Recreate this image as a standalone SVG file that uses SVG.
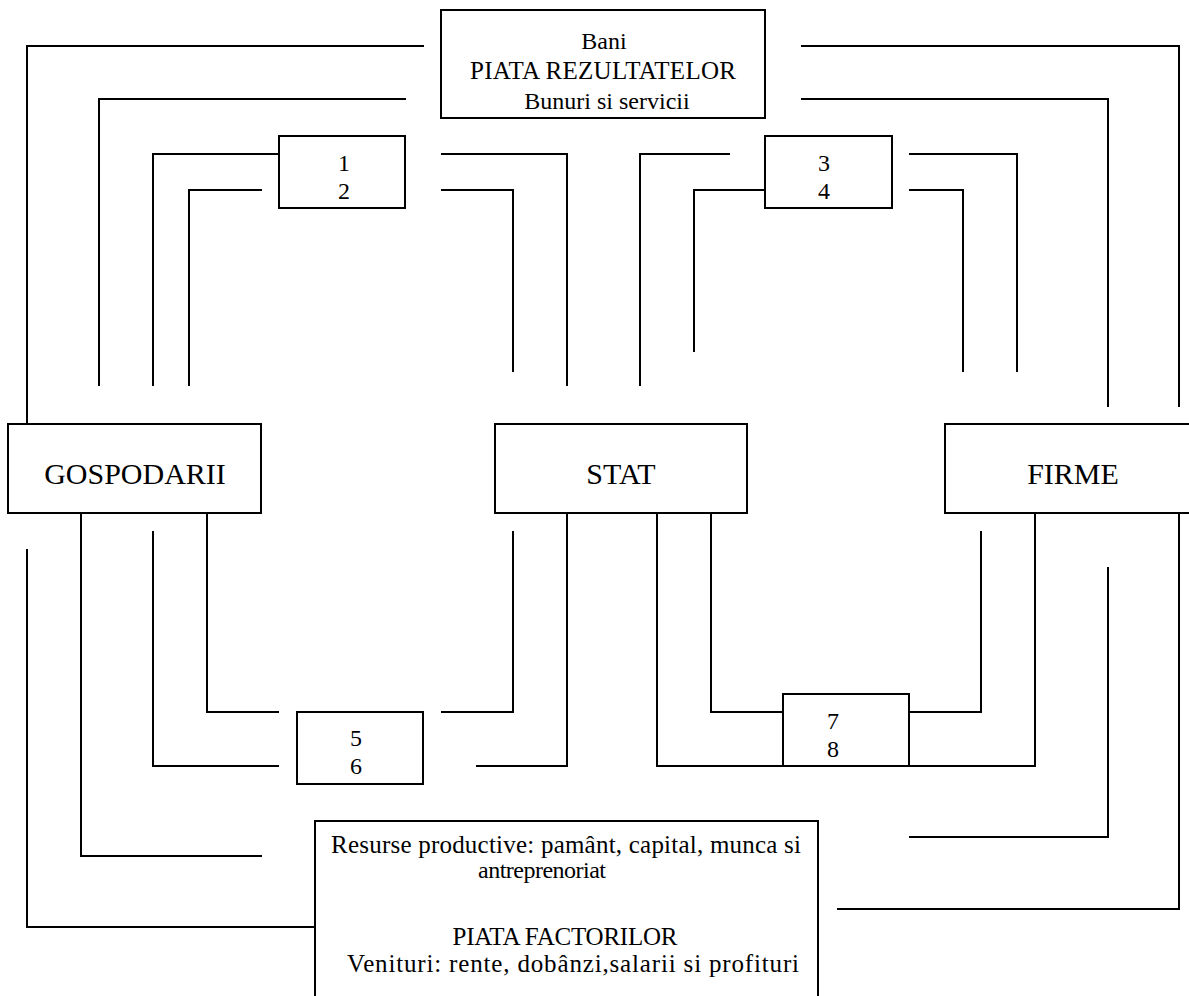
<svg xmlns="http://www.w3.org/2000/svg" width="1189" height="996" viewBox="0 0 1189 996">
<style>
.box{fill:#fff;stroke:#000;stroke-width:2}
.ln{fill:none;stroke:#000;stroke-width:2}
text{font-family:"Liberation Serif","Times New Roman",serif;fill:#000;text-anchor:middle}
.big{font-size:30px}
.t{font-size:24px}
.t25{font-size:25px}
</style>
<rect width="1189" height="996" fill="#fff"/>
<g id="connectors">
<path class="ln" d="M424,46 H27 V424"/>
<path class="ln" d="M406,99 H99 V386"/>
<path class="ln" d="M279,154 H153 V386"/>
<path class="ln" d="M262,190 H189 V386"/>
<path class="ln" d="M441,154 H567 V386"/>
<path class="ln" d="M441,190 H513 V372"/>
<path class="ln" d="M801,46 H1179 V407"/>
<path class="ln" d="M801,99 H1108 V407"/>
<path class="ln" d="M730,154 H640 V386"/>
<path class="ln" d="M765,190 H694 V352"/>
<path class="ln" d="M909,154 H1017 V372"/>
<path class="ln" d="M909,190 H963 V372"/>
<path class="ln" d="M27,549 V927 H315"/>
<path class="ln" d="M81,514 V856 H262"/>
<path class="ln" d="M153,531 V766 H279"/>
<path class="ln" d="M207,514 V712 H279"/>
<path class="ln" d="M441,712 H513 V531"/>
<path class="ln" d="M476,766 H567 V514"/>
<path class="ln" d="M657,514 V766 H1035 V514"/>
<path class="ln" d="M711,514 V712 H783"/>
<path class="ln" d="M909,712 H981 V531"/>
<path class="ln" d="M909,837 H1108 V567"/>
<path class="ln" d="M837,909 H1179 V514"/>
</g>
<g id="piata-rezultatelor">
<rect class="box" x="441" y="10" width="324" height="108"/>
<text class="t" x="604" y="49">Bani</text>
<text class="t25" x="603" y="79" textLength="266" lengthAdjust="spacing">PIATA REZULTATELOR</text>
<text class="t" x="607" y="109">Bunuri si servicii</text>
</g>
<g id="box12">
<rect class="box" x="279" y="136" width="126" height="72"/>
<text class="t" x="344" y="171">1</text>
<text class="t" x="344" y="199">2</text>
</g>
<g id="box34">
<rect class="box" x="765" y="136" width="127" height="72"/>
<text class="t" x="824" y="171">3</text>
<text class="t" x="824" y="199">4</text>
</g>
<g id="gospodarii">
<rect class="box" x="8" y="424" width="253" height="89"/>
<text class="big" x="135" y="484">GOSPODARII</text>
</g>
<g id="stat">
<rect class="box" x="495" y="424" width="252" height="89"/>
<text class="big" x="621" y="484">STAT</text>
</g>
<g id="firme">
<rect class="box" x="945" y="424" width="256" height="89"/>
<text class="big" x="1073" y="484">FIRME</text>
</g>
<g id="box56">
<rect class="box" x="297" y="712" width="126" height="72"/>
<text class="t" x="356" y="746">5</text>
<text class="t" x="356" y="774">6</text>
</g>
<g id="box78">
<rect class="box" x="783" y="694" width="126" height="72"/>
<text class="t" x="833" y="729">7</text>
<text class="t" x="833" y="757">8</text>
</g>
<g id="piata-factorilor">
<rect class="box" x="315" y="821" width="503" height="200"/>
<text class="t25" x="566" y="853" textLength="470" lengthAdjust="spacing">Resurse productive: pamânt, capital, munca si</text>
<text class="t" x="542" y="878" textLength="128" lengthAdjust="spacing">antreprenoriat</text>
<text class="t25" x="565" y="945" textLength="225" lengthAdjust="spacing">PIATA FACTORILOR</text>
<text class="t25" x="573" y="972" textLength="452" lengthAdjust="spacing">Venituri: rente, dobânzi,salarii si profituri</text>
</g>
</svg>
